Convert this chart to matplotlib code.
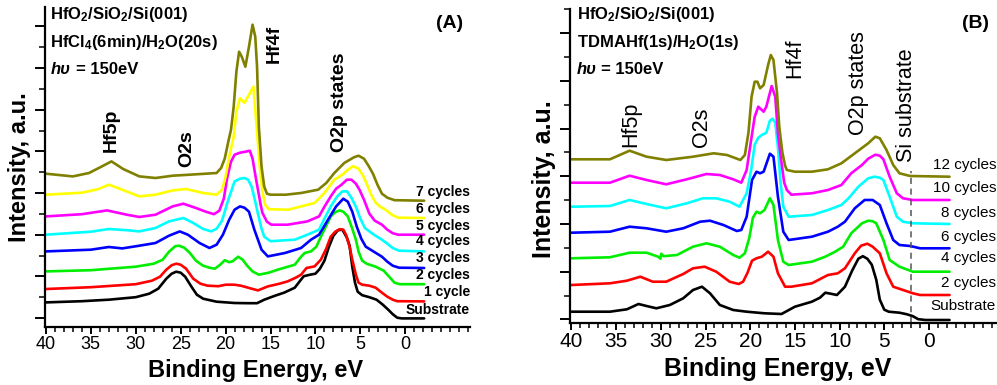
import matplotlib
matplotlib.use('Agg')
import matplotlib.pyplot as plt
from matplotlib.ticker import FixedLocator

plt.rcParams['font.family'] = ['Liberation Sans', 'DejaVu Sans']
plt.rcParams['mathtext.default'] = 'regular'

# ---------------- Panel A data (binding energy eV, intensity a.u.) ----------------
A_sub_E = [40, 36, 33, 30, 28.5, 27.5, 26.6, 26.0, 25.5, 25.0, 24.5, 23.8, 23.2, 22.5, 21.0, 19.0, 17.5, 16.5, 15.7, 14.5,
           13.5, 12.3, 11.7, 11.3, 10.6, 10.0, 9.5, 9.0, 8.5, 8.0, 7.5, 7.0, 6.5, 6.2, 5.9, 5.6, 5.3, 4.8, 4.0, 3.2,
           2.5, 1.9, 1.4, 0.9, 0.4, -2.1]
A_sub_I = [24.3, 25.5, 27, 29.5, 33, 38, 48, 53, 55, 54, 50, 40, 32, 28, 25, 23.7, 23.5, 23.5, 27, 31,
           34, 39, 46, 50.5, 52, 53, 58, 66, 80, 91, 96.5, 97, 89, 81, 60, 44, 35, 31.5, 29.5, 27,
           22, 17, 12.5, 9, 8.3, 8.3]

A_1_E = [40, 35, 30, 28.2, 27.3, 26.6, 26.0, 25.5, 25.0, 24.4, 23.6, 22.8, 22.0, 20.8, 20.0, 19.0, 18.3, 17.5, 16.4, 15.3,
         14.0, 13.1, 12.2, 11.6, 11.0, 10.1, 9.4, 8.8, 8.3, 7.8, 7.3, 6.9, 6.6, 6.2, 5.9, 5.5, 5.2, 4.8, 4.0, 3.3,
         2.6, 2.0, 1.4, 0.9, -2.1]
A_1_I = [37.7, 39.5, 42.5, 46, 50, 57, 61.5, 63, 62, 58, 48, 43, 41, 40.5, 42, 42, 41, 39, 36.3, 40.3,
         43, 45.3, 49, 52, 58.7, 60.3, 67, 78, 90, 95, 97.5, 97, 92, 80, 67, 52, 44, 42, 41, 39,
         34, 30, 27, 25.5, 25.3]

A_2_E = [40, 35, 30, 28, 27, 26.3, 25.6, 25.2, 24.6, 24.0, 23.3, 22.5, 21.8, 21.2, 20.6, 20.1, 19.6, 19.2, 18.6, 18.1,
         17.6, 17.0, 16.3, 15.2, 14.2, 12.3, 11.6, 11.2, 10.5, 9.9, 9.4, 8.8, 8.3, 7.8, 7.3, 6.9, 6.4, 5.9, 5.5, 5.2,
         4.8, 4.3, 3.3, 2.4, 1.8, 1.2, 0.6, -2.1]
A_2_I = [55.3, 56.5, 60, 63, 67, 75, 80.5, 81, 79, 74, 66, 61, 59, 58, 62, 66.5, 64.5, 65.5, 70, 67,
         61, 55.3, 52, 54, 57, 62, 70, 73.7, 75.3, 80, 90, 101, 110.3, 114.5, 116.3, 115, 110.3, 98, 87, 75,
         66, 63, 60, 56, 50, 44, 42.5, 42.5]

A_3_E = [40, 35, 33, 31.5, 29.6, 27.8, 26.3, 25.1, 24.2, 22.9, 21.8, 21.0, 20.3, 19.6, 19.0, 18.4, 17.9, 17.4, 16.8, 16.0,
         15.3, 13.4, 11.6, 10.5, 9.6, 8.6, 7.7, 6.9, 6.4, 5.9, 5.4, 4.9, 4.4, 3.5, 2.6, 2.0, 1.4, 0.7, -2.1]
A_3_I = [75.3, 77, 79.7, 78.3, 81, 83.7, 91, 95.3, 92, 83.7, 78.7, 82, 92, 107, 117, 120.3, 119, 115, 97, 77,
         70.3, 73.7, 78.7, 87, 92, 107, 120.3, 128, 125, 115, 100, 88, 80, 75, 70, 65, 61, 59, 58.7]

A_4_E = [40, 35, 33, 31, 29.6, 27.8, 26.3, 24.7, 23.6, 22.5, 21.6, 21.0, 20.4, 19.7, 19.0, 18.4, 17.9, 17.5, 17.1, 16.7,
         16.4, 16.0, 15.7, 15.0, 12.3, 10.9, 9.6, 9.0, 8.3, 7.6, 7.0, 6.5, 6.0, 5.5, 5.0, 4.5, 3.5, 2.6, 2.0, 1.4,
         0.7, -2.1]
A_4_I = [92, 95, 97.7, 96.5, 95.3, 98.7, 105.3, 108.7, 103.7, 97.7, 95.3, 98, 106, 127, 145.3, 148, 148.7, 147, 140, 125,
         113, 98, 90, 85.5, 87, 92, 97, 108, 120.3, 130, 135.3, 135.5, 129, 120, 108, 98.7, 92, 87, 83, 78.7,
         76, 75.3]

A_5_E = [40, 36, 33.2, 31, 29.6, 27.8, 25.9, 24.7, 23.3, 22.2, 21.3, 20.7, 20.2, 19.8, 19.4, 19.0, 18.4, 17.8, 17.3, 17.0,
         16.7, 16.4, 16.1, 15.9, 15.4, 14.9, 13.1, 10.9, 9.6, 9.0, 8.3, 7.7, 7.1, 6.5, 6.0, 5.5, 5.1, 4.6, 4.0, 3.4,
         2.6, 2.0, 1.4, 0.8, -2.1]
A_5_I = [110.3, 112.5, 116.3, 112, 109.7, 112, 120.3, 123, 118.7, 115, 112.5, 116, 128, 150, 165, 172, 174, 175, 176, 168,
         152, 137, 122, 113.7, 105, 102, 102, 105.3, 110.3, 120, 130.3, 138, 142, 147, 147, 143, 137, 127, 113, 106,
         102, 97, 93.5, 92, 92]

A_6_E = [40, 36, 34.2, 33.0, 31.8, 29.6, 27.8, 25.9, 24.4, 22.5, 21.0, 20.4, 20.0, 19.6, 19.1, 18.8, 18.4, 17.9, 17.4, 16.9,
         16.5, 16.2, 15.9, 15.6, 15.2, 13.0, 11.6, 10.1, 9.0, 7.9, 7.0, 6.4, 5.8, 5.2, 4.7, 4.3, 3.8, 3.3, 2.8, 2.2,
         1.5, 0.8, -2.1]
A_6_I = [132, 134, 137.5, 142, 138, 130.3, 132, 136.3, 137.7, 133.7, 132, 137, 150, 170, 190, 215, 228.5, 223.7, 232, 240,
         195, 160, 135, 122, 117.5, 117, 120.3, 123.7, 133.7, 147, 152, 157, 160.5, 158, 151, 143, 132, 124, 120, 117,
         112, 109, 108.7]

A_7_E = [40, 37, 35.2, 33.9, 32.7, 31.4, 29.6, 27.8, 25.9, 24.0, 21.0, 20.5, 20.1, 19.7, 19.4, 19.1, 18.8, 18.5, 18.2, 17.8,
         17.4, 17.0, 16.7, 16.5, 16.3, 16.0, 15.7, 15.4, 15.0, 13.3, 11.6, 9.7, 8.8, 7.9, 6.8, 5.7, 5.2, 4.6, 4.1, 3.6,
         3.1, 2.6, 2.0, 1.2, -2.1]
A_7_I = [153, 150.3, 153.7, 159.7, 165.3, 157.7, 150.3, 148.7, 151, 152, 153.7, 158.7, 168, 185, 197, 220, 255, 275, 270, 260,
         280, 302, 290, 260, 200, 160, 140, 133, 132, 132, 133.7, 137, 143.7, 153.7, 163.7, 169.5, 171, 168, 161, 153,
         142, 133, 129, 126.5, 126]

A_labels = ['Substrate', '1 cycle', '2 cycles', '3 cycles', '4 cycles', '5 cycles', '6 cycles', '7 cycles']
A_label_I = [16.3, 34.3, 52, 68.7, 85.7, 100.3, 117.7, 134.7]

# ---------------- Panel B data ----------------
B_sub_E = [40, 35.7, 33.8, 32.5, 31.6, 30.5, 29.0, 27.5, 26.4, 25.4, 24.5, 23.4, 21.9, 20.4, 18.4, 16.5, 15.0, 13.1, 12.2, 11.6,
           11.0, 10.3, 9.4, 8.6, 7.9, 7.4, 6.9, 6.4, 5.9, 5.5, 5.0, 4.5, 3.3, 2.5, 1.8, 1.2, 0.4, -2.3]
B_sub_I = [11, 11, 13.4, 18.7, 16.7, 14.4, 17.7, 24.4, 32.7, 36, 29.4, 17.7, 12.7, 11, 9.4, 8.7, 16, 21, 25, 30,
           29, 27.7, 36, 52, 64, 66.5, 64, 58, 43, 23, 13, 11, 10, 8.5, 6.5, 3.5, 2.7, 2.7]

B_2_E = [40, 35.7, 33.8, 32.3, 30.9, 29.4, 27.5, 26.4, 25.1, 23.8, 22.3, 21.3, 20.8, 20.3, 19.8, 19.3, 18.7, 18.0, 17.4, 16.9,
         16.1, 15.4, 13.1, 11.3, 10.2, 9.4, 8.3, 7.6, 6.9, 6.3, 5.5, 4.75, 4.0, 2.9, 1.8, 1.0, -2.3]
B_2_I = [37.7, 39.4, 42, 46, 41, 41, 48.7, 54.4, 56, 51, 41, 38.7, 41, 50, 62, 64.4, 66, 71, 66, 49.4,
         36, 36, 39.4, 47.7, 49.4, 54.4, 69.4, 77, 79, 76, 69.4, 49.4, 36, 32.7, 29.4, 27.7, 27.7]

B_4_E = [40, 35.7, 33.5, 31.6, 30.3, 30.05, 29.95, 29.7, 28.2, 26.4, 24.9, 23.4, 21.9, 21.2, 20.6, 20.1, 19.7, 19.3, 18.9, 18.4,
         17.8, 17.4, 16.9, 16.3, 15.7, 13.1, 11.6, 10.5, 9.6, 8.7, 7.5, 6.8, 6.3, 5.9, 5.1, 4.4, 3.3, 1.8, -2.3]
B_4_I = [64.4, 65.4, 70, 70, 66, 64, 69, 66.5, 67.7, 76, 79.4, 76, 67.7, 65, 69.4, 85, 105, 111, 109.4, 112.7,
         124.4, 117.7, 82.7, 61, 57.7, 61, 66, 71, 76, 89.4, 99.4, 102, 101.5, 99.4, 82.7, 62.7, 56, 51, 51]

B_6_E = [40, 35.7, 33.5, 31.6, 29.4, 27.5, 25.6, 24.5, 23.0, 21.5, 21.0, 20.4, 19.8, 19.3, 18.9, 18.5, 17.8, 17.4, 16.9, 16.3,
         15.7, 13.1, 11.3, 10.2, 9.4, 8.3, 7.2, 6.3, 5.5, 4.75, 4.0, 3.3, 2.1, 1.0, -2.3]
B_6_I = [90, 91, 96, 94.4, 91, 94.4, 101, 102, 97.7, 91.7, 92.7, 106, 142.7, 151, 149.4, 151, 169, 166, 126, 91,
         82.7, 86, 91, 96, 101, 114.4, 122.7, 122.7, 117.7, 99.4, 82.7, 77.7, 76.7, 74.4, 74.4]

B_8_E = [40, 35.7, 33.5, 31.6, 29.4, 27.1, 25.3, 23.8, 22.3, 21.2, 20.4, 19.9, 19.5, 19.1, 18.7, 18.2, 17.8, 17.5, 17.2, 16.9,
         16.6, 16.3, 15.7, 13.1, 11.3, 9.8, 9.0, 7.9, 6.8, 6.1, 5.5, 5.1, 4.4, 3.6, 2.9, 1.8, -2.3]
B_8_I = [116, 116.7, 122.7, 118.7, 114.4, 119.4, 124.4, 124.4, 121, 116, 129.4, 152.7, 178, 185, 187.7, 190, 202, 204, 200, 175,
         140, 116, 106, 107.7, 112.7, 117.7, 124.4, 136, 144.4, 146, 145, 142.7, 126, 106, 101, 99.4, 98.7]

B_10_E = [40, 35.7, 33.5, 31.6, 29.4, 27.1, 24.9, 23.4, 21.9, 21.0, 20.4, 19.9, 19.5, 19.1, 18.5, 18.2, 17.6, 17.2, 16.9, 16.5,
          16.2, 15.9, 15.4, 13.1, 11.3, 9.8, 8.7, 7.5, 6.8, 6.0, 5.5, 5.1, 4.4, 3.6, 2.9, 1.8, -2.3]
B_10_I = [140, 140, 147, 142.7, 138.4, 143.4, 148.7, 147.7, 143.4, 140, 152.7, 182.7, 206, 216, 211, 216, 236.7, 226, 189, 160,
          140, 132.7, 128, 129.4, 132.7, 137.7, 149.4, 157.7, 164, 168, 167, 163.4, 146, 129.4, 124.4, 122.7, 122.7]

B_12_E = [40, 35.7, 33.5, 31.6, 29.4, 26.4, 24.1, 22.6, 21.1, 20.6, 20.2, 19.85, 19.5, 19.2, 18.9, 18.5, 18.0, 17.7, 17.4, 17.0,
          16.75, 16.4, 16.1, 15.9, 15.0, 13.1, 11.3, 9.8, 8.3, 6.8, 6.0, 5.5, 4.75, 4.0, 3.3, 2.1, -2.3]
B_12_I = [163.4, 163.4, 172, 166, 162.7, 166, 169.4, 167.7, 162.7, 167.7, 190, 226, 241, 241, 234.4, 237.7, 257.7, 267.7, 262.7, 229.4,
          196, 170, 157, 152.7, 151, 151, 153.4, 159.4, 169.4, 179.4, 186, 184.4, 172.7, 157.7, 149.4, 146.7, 146]

B_labels = ['Substrate', '2 cycles', '4 cycles', '6 cycles', '8 cycles', '10 cycles', '12 cycles']
B_label_I = [16.7, 40, 64.4, 86, 110, 134.4, 157.7]
Si_edge_E = 2.0

colors_A = ['black', '#ff0000', '#00ee00', '#0000ff', '#00ffff', '#ff00ff', '#ffff00', '#808000']
colors_B = ['black', '#ff0000', '#00ee00', '#0000ff', '#00ffff', '#ff00ff', '#808000']

A_curves = [(A_sub_E, A_sub_I), (A_1_E, A_1_I), (A_2_E, A_2_I), (A_3_E, A_3_I),
            (A_4_E, A_4_I), (A_5_E, A_5_I), (A_6_E, A_6_I), (A_7_E, A_7_I)]
B_curves = [(B_sub_E, B_sub_I), (B_2_E, B_2_I), (B_4_E, B_4_I), (B_6_E, B_6_I),
            (B_8_E, B_8_I), (B_10_E, B_10_I), (B_12_E, B_12_I)]

W, H = 997, 385
fig = plt.figure(figsize=(W / 100, H / 100), dpi=100)
axA = fig.add_axes([45 / W, 58.3 / H, 425 / W, 320 / H])
axB = fig.add_axes([569.7 / W, 62.3 / H, 426.3 / W, 313.5 / H])


def style(ax, xlim, ylim, ymaj, ymin, tsize):
    ax.set_xlim(*xlim)
    ax.set_ylim(*ylim)
    for s in ('top', 'right'):
        ax.spines[s].set_visible(False)
    for s in ('left', 'bottom'):
        ax.spines[s].set_linewidth(1.6)
    ax.set_xticks(list(range(40, -1, -5)))
    ax.set_xticklabels([str(v) for v in range(40, -1, -5)])
    ax.xaxis.set_minor_locator(FixedLocator(list(range(-7, 41))))
    ax.set_yticks(ymaj)
    ax.set_yticklabels([])
    ax.yaxis.set_minor_locator(FixedLocator(ymin))
    ax.tick_params(axis='x', which='major', direction='out', length=5, width=1.4, labelsize=tsize, pad=2)
    ax.tick_params(axis='x', which='minor', direction='out', length=3.5, width=1.1)
    ax.tick_params(axis='y', which='major', direction='out', length=7, width=1.4)
    ax.tick_params(axis='y', which='minor', direction='out', length=4, width=1.1)


ymajA = [8.7 + 41.67 * k for k in range(8)]
yminA = [8.7 + 41.67 * k + 20.8 for k in range(8)]
style(axA, (40.1, -7.2), (0, 320), ymajA, yminA, 13)

ymajB = [3.3 + 47.7 * k for k in range(7)]
yminB = [3.3 + 47.7 * k + 23.85 for k in range(7)]
style(axB, (40.2, -7.5), (0, 313.5), ymajB, yminB, 15)

for (E, I), c in zip(A_curves, colors_A):
    axA.plot(E, I, color=c, lw=1.9, solid_joinstyle='round', solid_capstyle='round')
for (E, I), c in zip(B_curves, colors_B):
    axB.plot(E, I, color=c, lw=1.9, solid_joinstyle='round', solid_capstyle='round')

for lab, yv in zip(A_labels, A_label_I):
    axA.text(-7.2, yv, lab, ha='right', va='center', fontsize=10, fontweight='bold')
for lab, yv in zip(B_labels, B_label_I):
    axB.text(-7.5, yv, lab, ha='right', va='center', fontsize=11)

axB.plot([Si_edge_E, Si_edge_E], [0, 152], color='#555555', lw=1.1, ls=(0, (4, 3)))

# Panel A annotations
axA.text(39.5, 312, 'HfO$_2$/SiO$_2$/Si(001)', ha='left', va='center', fontsize=12, fontweight='bold')
axA.text(39.5, 284.3, 'HfCl$_4$(6min)/H$_2$O(20s)', ha='left', va='center', fontsize=12, fontweight='bold')
axA.text(39.5, 257, 'hυ', ha='left', va='center', fontsize=12, fontweight='bold', fontstyle='italic')
axA.text(36.6, 257, '= 150eV', ha='left', va='center', fontsize=12, fontweight='bold')
axA.text(-4.9, 303.7, '(A)', ha='center', va='center', fontsize=14, fontweight='bold')
for txt, e, ib in [('Hf5p', 32.7, 175), ('O2s', 24.3, 160), ('Hf4f', 14.6, 263.7), ('O2p states', 7.3, 175)]:
    axA.text(e, ib, txt, rotation=90, ha='center', va='bottom', fontsize=14, fontweight='bold')

# Panel B annotations
axB.text(39.4, 307.7, 'HfO$_2$/SiO$_2$/Si(001)', ha='left', va='center', fontsize=12, fontweight='bold')
axB.text(39.4, 280, 'TDMAHf(1s)/H$_2$O(1s)', ha='left', va='center', fontsize=12, fontweight='bold')
axB.text(39.4, 252.7, 'hυ', ha='left', va='center', fontsize=12, fontweight='bold', fontstyle='italic')
axB.text(36.7, 252.7, '= 150eV', ha='left', va='center', fontsize=12, fontweight='bold')
axB.text(-5.2, 299.4, '(B)', ha='center', va='center', fontsize=14, fontweight='bold')
for txt, e, ib in [('Hf5p', 33.4, 176), ('O2s', 25.4, 176), ('Hf4f', 15.0, 244.4),
                   ('O2p states', 7.9, 187.7), ('Si substrate', 2.55, 161)]:
    axB.text(e, ib, txt, rotation=90, ha='center', va='bottom', fontsize=15.5)

# Axis labels
fig.text(255.8 / W, 1 - 370 / H, 'Binding Energy, eV', ha='center', va='center', fontsize=17, fontweight='bold')
fig.text(20 / W, 1 - 167.5 / H, 'Intensity, a.u.', ha='center', va='center', rotation=90, fontsize=17, fontweight='bold')
fig.text(777.8 / W, 1 - 369 / H, 'Binding Energy, eV', ha='center', va='center', fontsize=18, fontweight='bold')
fig.text(543.7 / W, 1 - 179 / H, 'Intensity, a.u.', ha='center', va='center', rotation=90, fontsize=18, fontweight='bold')

fig.savefig('out.png', dpi=100)
